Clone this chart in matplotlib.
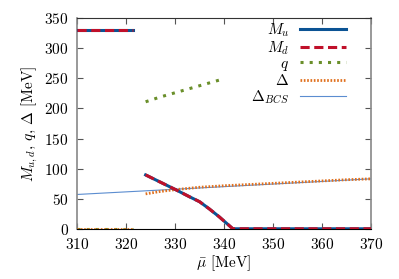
import numpy as np
import matplotlib
matplotlib.use("Agg")
import matplotlib.pyplot as plt

plt.rcParams['font.family'] = 'serif'
plt.rcParams['font.serif'] = ['cmr10', 'DejaVu Serif']
plt.rcParams['mathtext.fontset'] = 'cm'
plt.rcParams['axes.formatter.use_mathtext'] = True

# normal phase (low mu)
mu_lo = [310, 321.5]
M_lo = [330, 330]
q_lo = [0, 0]
D_lo = [0, 0]

# LOFF phase
mu_M = [324, 327, 330, 333, 335, 337, 339, 341.8, 350, 360, 370]
M_u = [89.5, 77.5, 65.5, 53, 45, 33, 20, 0, 0, 0, 0]
M_d = M_u

mu_q = [324, 327, 330, 333, 336, 339]
q = [211, 219, 226, 233, 240, 247]

mu_D = [324, 327, 330, 335, 340, 345, 350, 355, 360, 365, 370]
D = [58, 62, 65, 69, 71.5, 73.5, 75.5, 77.5, 79.5, 81.5, 83]

mu_bcs = [310, 370]
D_bcs = [57, 83]

c_u = '#0b5394'
c_d = '#c0102a'
c_q = '#6a8f2a'
c_D = '#e0701e'
c_b = '#5b8dd0'

fig, ax = plt.subplots(figsize=(3.99, 2.79), dpi=100)

ax.plot(mu_bcs, D_bcs, color=c_b, lw=0.8, zorder=2)
ax.plot(mu_lo, q_lo, color=c_q, lw=2.2, ls=(0, (1, 2)), zorder=3)
ax.plot(mu_lo, D_lo, color=c_D, lw=2, ls=(0, (0.6, 0.6)), zorder=3)
ax.plot(mu_lo, M_lo, color=c_u, lw=2.2, zorder=4)
ax.plot(mu_lo, M_lo, color=c_d, lw=2.2, ls=(0, (3, 1.5)), zorder=5)
ax.plot(mu_q, q, color=c_q, lw=2.2, ls=(0, (1, 2)), zorder=3)
ax.plot(mu_D, D, color=c_D, lw=2, ls=(0, (0.6, 0.6)), zorder=3)
ax.plot(mu_M, M_u, color=c_u, lw=2.2, zorder=4)
ax.plot(mu_M, M_d, color=c_d, lw=2.2, ls=(0, (3, 1.5)), zorder=5)

# legend handles
hu, = ax.plot([], [], color=c_u, lw=2.2, label=r'$M_u$')
hd, = ax.plot([], [], color=c_d, lw=2.2, ls=(0, (3, 1.5)), label=r'$M_d$')
hq, = ax.plot([], [], color=c_q, lw=2.2, ls=(0, (1, 2)), label=r'$q$')
hD, = ax.plot([], [], color=c_D, lw=2, ls=(0, (0.6, 0.6)), label=r'$\Delta$')
hb, = ax.plot([], [], color=c_b, lw=0.8, label=r'$\Delta_{BCS}$')

ax.legend(handles=[hu, hd, hq, hD, hb], loc='upper right', frameon=False,
          markerfirst=False, fontsize=11, handlelength=3.0, labelspacing=0.02,
          bbox_to_anchor=(0.935, 1.015), borderaxespad=0, handletextpad=0.7)

ax.set_xlim(310, 370)
ax.set_ylim(0, 350)
ax.set_xticks(np.arange(310, 371, 10))
ax.set_yticks(np.arange(0, 351, 50))
ax.tick_params(direction='in', top=True, right=True, labelsize=11, length=4,
               color='#555555', pad=6)
for s in ['left', 'right']:
    ax.spines[s].set_color('#888888')
    ax.spines[s].set_linewidth(1.2)
ax.spines['bottom'].set_color('black')
ax.spines['top'].set_color('#333333')

ax.set_xlabel(r'$\bar{\mu}$ [MeV]', fontsize=11, labelpad=1)
ax.set_ylabel(r'$M_{u,d},\, q,\, \Delta$ [MeV]', fontsize=11, labelpad=3)

fig.subplots_adjust(left=0.193, right=0.93, top=0.935, bottom=0.18)
fig.savefig('out.png', dpi=100)
